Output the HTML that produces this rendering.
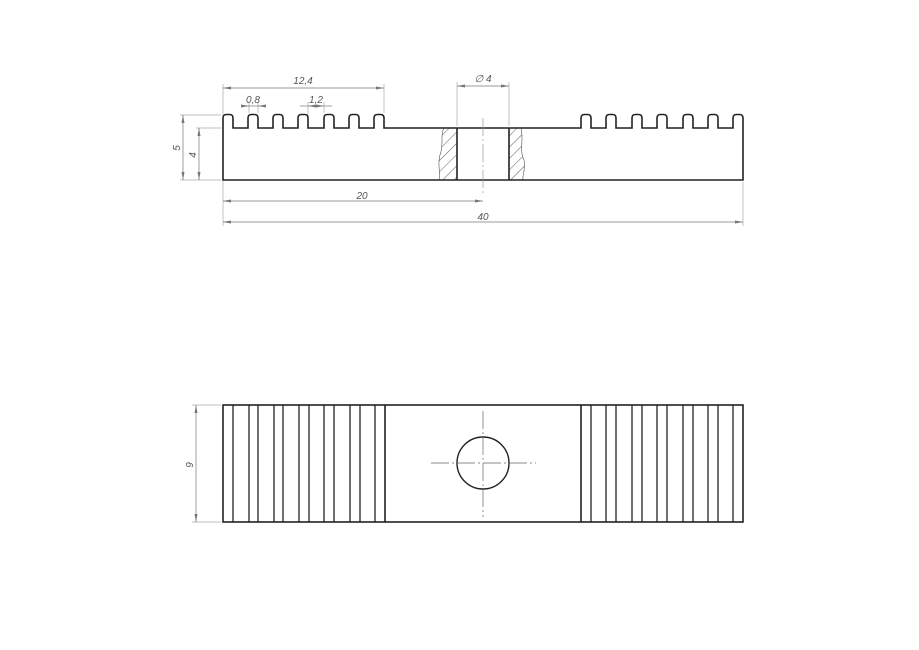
<!DOCTYPE html>
<html><head><meta charset="utf-8"><style>
html,body{margin:0;padding:0;background:#fff;}
svg{display:block;}
text{font-family:"Liberation Sans",sans-serif;font-style:italic;font-size:10px;fill:#555;}
</style></head><body>
<svg width="919" height="650" viewBox="0 0 919 650" xmlns="http://www.w3.org/2000/svg">
<defs>
<marker id="a" markerWidth="8" markerHeight="4" refX="8" refY="2" orient="auto-start-reverse" markerUnits="userSpaceOnUse"><path d="M0,0.5 L8,2 L0,3.5z" fill="#777"/></marker>
<pattern id="h" width="8" height="8" patternUnits="userSpaceOnUse" patternTransform="rotate(45)"><line x1="0" y1="0" x2="0" y2="8" stroke="#333" stroke-width="0.8"/></pattern>
</defs>
<g stroke="#aaa" stroke-width="0.7" fill="none">
<line x1="223" y1="84" x2="223" y2="226"/>
<line x1="384" y1="84" x2="384" y2="113"/>
<line x1="457" y1="82" x2="457" y2="126"/>
<line x1="509" y1="82" x2="509" y2="126"/>
<line x1="743" y1="182" x2="743" y2="226"/>
<line x1="249" y1="102" x2="249" y2="113"/>
<line x1="258" y1="102" x2="258" y2="113"/>
<line x1="308" y1="102" x2="308" y2="126"/>
<line x1="324" y1="102" x2="324" y2="113"/>
<line x1="180" y1="115" x2="221" y2="115"/>
<line x1="180" y1="180" x2="221" y2="180"/>
<line x1="196" y1="128" x2="221" y2="128"/>
<line x1="192" y1="405" x2="221" y2="405"/>
<line x1="192" y1="522" x2="221" y2="522"/>
</g>
<g stroke="#777" stroke-width="0.7" fill="none">
<line x1="223" y1="88" x2="384" y2="88" marker-start="url(#a)" marker-end="url(#a)"/>
<line x1="457" y1="86" x2="509" y2="86" marker-start="url(#a)" marker-end="url(#a)"/>
<line x1="241" y1="106" x2="249" y2="106" marker-end="url(#a)"/>
<line x1="266" y1="106" x2="258" y2="106" marker-end="url(#a)"/>
<line x1="249" y1="106" x2="258" y2="106"/>
<line x1="308" y1="106" x2="324" y2="106" marker-start="url(#a)" marker-end="url(#a)"/>
<line x1="300" y1="106" x2="308" y2="106"/>
<line x1="324" y1="106" x2="332" y2="106"/>
<line x1="183" y1="115" x2="183" y2="180" marker-start="url(#a)" marker-end="url(#a)"/>
<line x1="199" y1="128" x2="199" y2="180" marker-start="url(#a)" marker-end="url(#a)"/>
<line x1="223" y1="201" x2="483" y2="201" marker-start="url(#a)" marker-end="url(#a)"/>
<line x1="223" y1="222" x2="743" y2="222" marker-start="url(#a)" marker-end="url(#a)"/>
<line x1="196" y1="405" x2="196" y2="522" marker-start="url(#a)" marker-end="url(#a)"/>
</g>
<text x="303" y="84" text-anchor="middle">12,4</text>
<text x="483" y="82" text-anchor="middle">∅ 4</text>
<text x="253" y="103" text-anchor="middle">0,8</text>
<text x="316" y="103" text-anchor="middle">1,2</text>
<text x="362" y="199" text-anchor="middle">20</text>
<text x="483" y="220" text-anchor="middle">40</text>
<text transform="translate(180,148) rotate(-90)" text-anchor="middle">5</text>
<text transform="translate(196,155) rotate(-90)" text-anchor="middle">4</text>
<text transform="translate(193,465) rotate(-90)" text-anchor="middle">9</text>
<path d="M444,128 C440,135 444,145 440,155 C437,165 441,172 439,180 L457,180 L457,128Z" fill="url(#h)" stroke="none"/>
<path d="M509,128 L521,128 C524,140 519,150 524,160 C526,170 522,175 523,180 L509,180Z" fill="url(#h)" stroke="none"/>
<path d="M444,128 C440,135 444,145 440,155 C437,165 441,172 439,180" stroke="#555" stroke-width="0.6" fill="none"/>
<path d="M521,128 C524,140 519,150 524,160 C526,170 522,175 523,180" stroke="#555" stroke-width="0.6" fill="none"/>
<path d="M223,180 L223,118 Q223,114.5 226.5,114.5 L229.5,114.5 Q233,114.5 233,118 L233,128
L248,128 L248,118 Q248,114.5 251.5,114.5 L254.5,114.5 Q258,114.5 258,118 L258,128
L273,128 L273,118 Q273,114.5 276.5,114.5 L279.5,114.5 Q283,114.5 283,118 L283,128
L298,128 L298,118 Q298,114.5 301.5,114.5 L304.5,114.5 Q308,114.5 308,118 L308,128
L324,128 L324,118 Q324,114.5 327.5,114.5 L330.5,114.5 Q334,114.5 334,118 L334,128
L349,128 L349,118 Q349,114.5 352.5,114.5 L355.5,114.5 Q359,114.5 359,118 L359,128
L374,128 L374,118 Q374,114.5 377.5,114.5 L380.5,114.5 Q384,114.5 384,118 L384,128
L581,128 L581,118 Q581,114.5 584.5,114.5 L587.5,114.5 Q591,114.5 591,118 L591,128
L606,128 L606,118 Q606,114.5 609.5,114.5 L612.5,114.5 Q616,114.5 616,118 L616,128
L632,128 L632,118 Q632,114.5 635.5,114.5 L638.5,114.5 Q642,114.5 642,118 L642,128
L657,128 L657,118 Q657,114.5 660.5,114.5 L663.5,114.5 Q667,114.5 667,118 L667,128
L683,128 L683,118 Q683,114.5 686.5,114.5 L689.5,114.5 Q693,114.5 693,118 L693,128
L708,128 L708,118 Q708,114.5 711.5,114.5 L714.5,114.5 Q718,114.5 718,118 L718,128
L733,128 L733,118 Q733,114.5 736.5,114.5 L739.5,114.5 Q743,114.5 743,118 L743,180 Z" fill="none" stroke="#222" stroke-width="1.6"/>
<line x1="457" y1="128" x2="457" y2="180" stroke="#222" stroke-width="1.6"/>
<line x1="509" y1="128" x2="509" y2="180" stroke="#222" stroke-width="1.6"/>
<line x1="483" y1="118" x2="483" y2="196" stroke="#999" stroke-width="0.7" stroke-dasharray="18,3,2,3"/>
<rect x="223" y="405" width="520" height="117" fill="none" stroke="#222" stroke-width="1.6"/>
<g stroke="#222" stroke-width="1.3">
<line x1="233" y1="405" x2="233" y2="522"/><line x1="249" y1="405" x2="249" y2="522"/><line x1="258" y1="405" x2="258" y2="522"/>
<line x1="274" y1="405" x2="274" y2="522"/><line x1="283" y1="405" x2="283" y2="522"/><line x1="299" y1="405" x2="299" y2="522"/>
<line x1="309" y1="405" x2="309" y2="522"/><line x1="324" y1="405" x2="324" y2="522"/><line x1="334" y1="405" x2="334" y2="522"/>
<line x1="350" y1="405" x2="350" y2="522"/><line x1="360" y1="405" x2="360" y2="522"/><line x1="375" y1="405" x2="375" y2="522"/>
<line x1="385" y1="405" x2="385" y2="522" stroke-width="1.6"/>
<line x1="581" y1="405" x2="581" y2="522" stroke-width="1.6"/><line x1="591" y1="405" x2="591" y2="522"/><line x1="606" y1="405" x2="606" y2="522"/>
<line x1="616" y1="405" x2="616" y2="522"/><line x1="632" y1="405" x2="632" y2="522"/><line x1="642" y1="405" x2="642" y2="522"/>
<line x1="657" y1="405" x2="657" y2="522"/><line x1="667" y1="405" x2="667" y2="522"/><line x1="683" y1="405" x2="683" y2="522"/>
<line x1="693" y1="405" x2="693" y2="522"/><line x1="708" y1="405" x2="708" y2="522"/><line x1="718" y1="405" x2="718" y2="522"/>
<line x1="733" y1="405" x2="733" y2="522"/>
</g>
<circle cx="483" cy="463" r="26" fill="none" stroke="#222" stroke-width="1.4"/>
<g stroke="#666" stroke-width="0.7" stroke-dasharray="18,3,2,3">
<line x1="431" y1="463" x2="536" y2="463"/>
<line x1="483" y1="411" x2="483" y2="517"/>
</g>
</svg>
</body></html>
